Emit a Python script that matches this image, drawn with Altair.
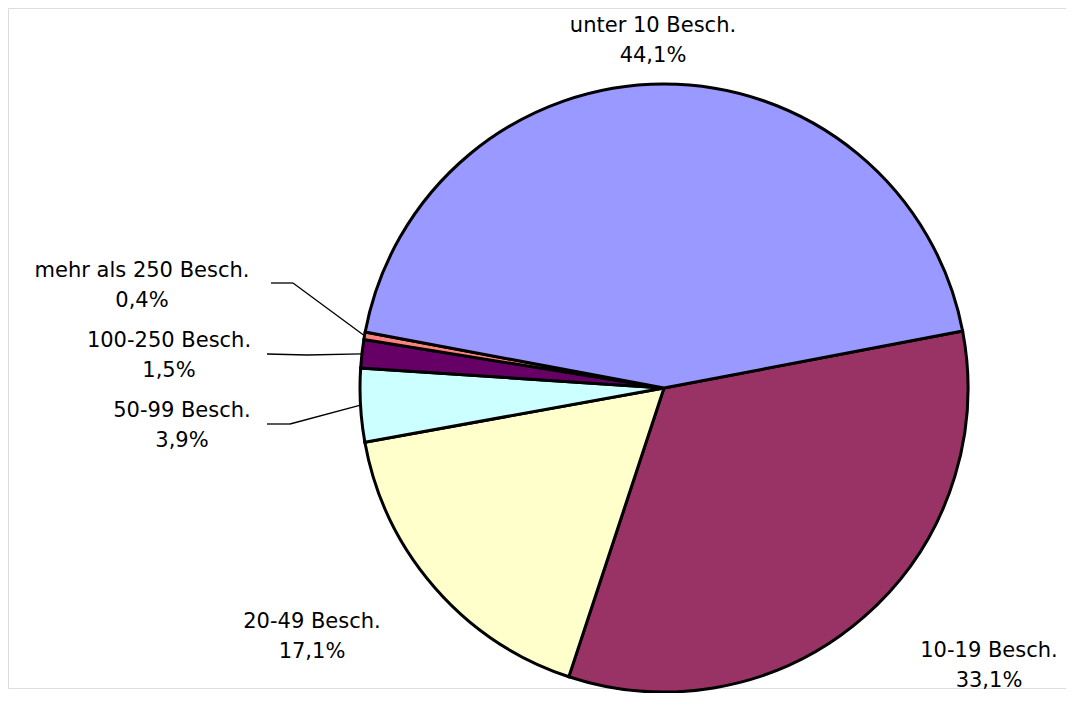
import math
import altair as alt
import pandas as pd

# ---- data ----
categories = ["10-19 Besch.", "20-49 Besch.", "50-99 Besch.", "100-250 Besch.",
              "mehr als 250 Besch.", "unter 10 Besch."]
shares = [33.1, 17.1, 3.9, 1.5, 0.4, 44.1]
colors = ["#993366", "#FFFFCC", "#CCFFFF", "#660066", "#FF8080", "#9999FF"]

# ---- layout (styling, not data) ----
W, H = 1058, 685
CX, CY = 656, 380          # pie centre in view pixels
R = 304
START_DEG = 79.2           # first slice starts here (clockwise from 12 o'clock)
start = math.radians(START_DEG)

# label anchor (centre x, first-line baseline y) in page pixels
label_pos = {
    "unter 10 Besch.": (653, 32),
    "10-19 Besch.": (989, 657),
    "20-49 Besch.": (312, 628),
    "50-99 Besch.": (182, 417),
    "100-250 Besch.": (169, 347),
    "mehr als 250 Besch.": (142, 277),
}

df = pd.DataFrame({"cat": categories, "value": shares, "idx": list(range(len(categories)))})

pie = alt.Chart(df).mark_arc(radius=R, stroke="black", strokeWidth=3).encode(
    theta=alt.Theta("value:Q", stack=True,
                    scale=alt.Scale(range=[start, start + 2 * math.pi])),
    color=alt.Color("cat:N", scale=alt.Scale(domain=categories, range=colors), legend=None),
    order=alt.Order("idx:Q", sort="ascending"),
    x=alt.value(CX), y=alt.value(CY),
)

rows = []
for c, v in zip(categories, shares):
    px, py = label_pos[c]
    pct = f"{v:.1f}".replace(".", ",") + "%"
    rows.append({"t": c, "x": px - 8, "y": py - 8})
    rows.append({"t": pct, "x": px - 8, "y": py - 8 + 30})
lab = pd.DataFrame(rows)

labels = alt.Chart(lab).mark_text(font="DejaVu Sans", fontSize=21, color="#000000",
                                  align="center", baseline="alphabetic").encode(
    x=alt.X("x:Q", scale=None), y=alt.Y("y:Q", scale=None), text="t:N")

# leader lines for the thin slices: from label to the slice's rim at its mid angle
total = sum(shares)
cum = 0.0
mid = {}
for c, v in zip(categories, shares):
    a = start + 2 * math.pi * (cum + v / 2) / total
    mid[c] = (CX + R * math.sin(a), CY - R * math.cos(a))
    cum += v

leader_start = {
    "mehr als 250 Besch.": [(263, 275), (285, 275)],
    "100-250 Besch.": [(259, 346), (299, 347)],
    "50-99 Besch.": [(259, 416), (282, 416)],
}
seg = []
for c, pts in leader_start.items():
    ex, ey = mid[c]
    chain = pts + [(ex, ey)]
    for (x1, y1), (x2, y2) in zip(chain[:-1], chain[1:]):
        seg.append({"x": x1, "y": y1, "x2": x2, "y2": y2})
segdf = pd.DataFrame(seg)

leaders = alt.Chart(segdf).mark_rule(color="black", strokeWidth=1.3).encode(
    x=alt.X("x:Q", scale=None), y=alt.Y("y:Q", scale=None),
    x2="x2:Q", y2="y2:Q")

chart = alt.layer(pie, leaders, labels).properties(
    width=W, height=H, padding=0,
    autosize=alt.AutoSizeParams(type="fit", contains="padding"),
).configure_view(strokeWidth=0, stroke="transparent").configure(background="white")

chart.save("out.html", embed_options={"renderer": "svg", "actions": False})
